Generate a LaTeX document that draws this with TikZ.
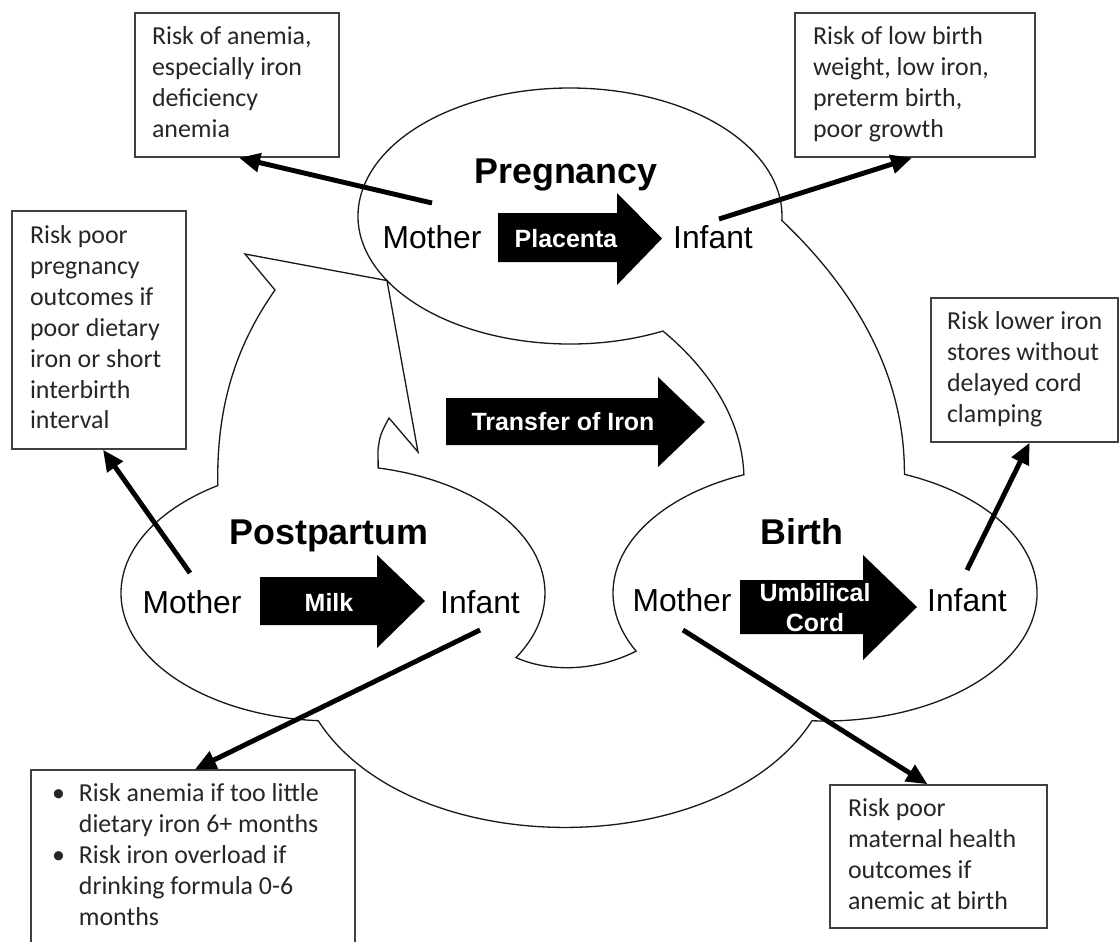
\documentclass[tikz,border=0pt]{standalone}
\usepackage{fontspec}
\setmainfont{Liberation Sans}
\newfontfamily\boxfont{Carlito}
\usetikzlibrary{arrows.meta,calc}
\begin{document}
\begin{tikzpicture}[x=0.02cm,y=-0.02cm,
  outline/.style={draw=black!90, line width=0.75pt, line join=miter},
  blockarrow/.style={fill=black},
  arrowlabel/.style={text=white, font=\bfseries\fontsize{14.2pt}{17pt}\selectfont, inner sep=0pt, anchor=base},
  title/.style={font=\bfseries\fontsize{20.4pt}{24pt}\selectfont, inner sep=0pt, anchor=base},
  actor/.style={font=\fontsize{18.1pt}{21pt}\selectfont, inner sep=0pt, anchor=base},
  riskbox/.style={draw=black!75, line width=0.9pt, fill=white, inner sep=0pt,
    font=\boxfont\fontsize{14.74pt}{17.6pt}\selectfont, text=black!85},
  riskarrow/.style={line width=2.8pt, -{Triangle[length=12pt,width=10.5pt]}}
]
\useasboundingbox (0,0) rectangle (1120,941);

% ellipse centres
\coordinate (pc) at (570,216);
\coordinate (ppc) at (333,593);
\coordinate (bc) at (825,593);
% junction points on the ellipses
\coordinate (pJ) at ($(pc)+(149.7:212 and 128)$);
\coordinate (pB) at ($(pc)+(64:212 and 128)$);
\coordinate (bTR) at ($(bc)+(-68:212 and 128)$);
\coordinate (bTL) at ($(bc)+(247.5:212 and 128)$);
\coordinate (bBL) at ($(bc)+(153:212 and 128)$);
\coordinate (ppR) at ($(ppc)+(30.3:212 and 128)$);
\coordinate (ppB) at ($(ppc)+(94:212 and 128)$);

% outer outline
\draw[outline] (pJ) arc[start angle=149.7, end angle=362, x radius=212, y radius=128]
  .. controls (850,285) and (905,370) .. (bTR)
  arc[start angle=-68, end angle=93.5, x radius=212, y radius=128]
  .. controls (720,863) and (410,863) .. (ppB)
  arc[start angle=94, end angle=237.1, x radius=212, y radius=128]
  .. controls (216,400) and (240,340) .. (275,290) -- (245,254) -- cycle;

% inner outline
\draw[outline] (pJ) arc[start angle=149.7, end angle=64, x radius=212, y radius=128]
  .. controls (710,370) and (742,420) .. (bTL)
  arc[start angle=247.5, end angle=153, x radius=212, y radius=128]
  .. controls (595,672) and (548,672) .. (ppR)
  arc[start angle=30.3, end angle=-77.7, x radius=212, y radius=128]
  -- (378,450) .. controls (380,435) .. (389,418) -- (418,452) -- cycle;

% block arrows
\fill[blockarrow] (498,213) -- (617,213) -- (617,193) -- (662,238.5) -- (617,285) -- (617,262) -- (498,262) -- cycle;
\fill[blockarrow] (446,398) -- (658,398) -- (658,377) -- (705,422) -- (658,467) -- (658,445) -- (446,445) -- cycle;
\fill[blockarrow] (260,577) -- (377,577) -- (377,555) -- (425,601) -- (377,648) -- (377,625) -- (260,625) -- cycle;
\fill[blockarrow] (740,580) -- (863,580) -- (863,555) -- (917,607) -- (863,660) -- (863,634) -- (740,634) -- cycle;

\node[arrowlabel] (placenta) at (566,247) {Placenta};
\node[arrowlabel] (transfer) at (563,430) {Transfer of Iron};
\node[arrowlabel] (milk) at (329,611) {Milk};
\node[arrowlabel] (cord1) at (815,601) {Umbilical};
\node[arrowlabel] (cord2) at (815,631) {Cord};

% titles
\node[title] (tpreg) at (566,183) {Pregnancy};
\node[title] (tpost) at (329,544) {Postpartum};
\node[title] (tbirth) at (802,544) {Birth};

% actors
\node[actor] (pmother) at (432,248) {Mother};
\node[actor] (pinfant) at (713,248) {Infant};
\node[actor] (ppmother) at (192,613) {Mother};
\node[actor] (ppinfant) at (480,613) {Infant};
\node[actor] (bmother) at (682,611) {Mother};
\node[actor] (binfant) at (967,611) {Infant};

% risk boxes
\node[riskbox, minimum width=4.08cm, minimum height=2.88cm] (tlbox) at (237,85)
  {\makebox[3.4cm][l]{\begin{tabular}{@{}l@{}}Risk of anemia,\\especially iron\\deficiency\\anemia\end{tabular}}};
\node[riskbox, minimum width=4.8cm, minimum height=2.88cm] (trbox) at (915,85)
  {\makebox[4.08cm][l]{\begin{tabular}{@{}l@{}}Risk of low birth\\weight, low iron,\\preterm birth,\\poor growth\end{tabular}}};
\node[riskbox, minimum width=3.48cm, minimum height=4.76cm] (mlbox) at (99,330)
  {\makebox[2.76cm][l]{\begin{tabular}{@{}l@{}}Risk poor\\pregnancy\\outcomes if\\poor dietary\\iron or short\\interbirth\\interval\end{tabular}}};
\node[riskbox, minimum width=3.74cm, minimum height=2.88cm] (mrbox) at (1024.5,370)
  {\makebox[3.1cm][l]{\begin{tabular}{@{}l@{}}Risk lower iron\\stores without\\delayed cord\\clamping\end{tabular}}};
\node[riskbox, minimum width=6.48cm, minimum height=3.5cm] (blbox) at (193,857.5)
  {\makebox[5.64cm][l]{\begin{tabular}{@{}l@{}}\makebox[15.3pt][l]{\textbullet}Risk anemia if too little\\\hspace*{15.3pt}dietary iron 6+ months\\\makebox[15.3pt][l]{\textbullet}Risk iron overload if\\\hspace*{15.3pt}drinking formula 0-6\\\hspace*{15.3pt}months\end{tabular}}};
\node[riskbox, minimum width=4.34cm, minimum height=2.86cm] (brbox) at (938.5,856.5)
  {\makebox[3.62cm][l]{\begin{tabular}{@{}l@{}}Risk poor\\maternal health\\outcomes if\\anemic at birth\end{tabular}}};

% risk arrows
\coordinate (s1) at (432,203);
\coordinate (s2) at (719,219);
\coordinate (s3) at (190,573);
\coordinate (s4) at (480,630);
\coordinate (s5) at (683,630);
\coordinate (s6) at (967,570);
\draw[riskarrow] (s1) -- ($(tlbox.south)+(2,0)$);
\draw[riskarrow] (s2) -- ($(trbox.south)+(-3,0)$);
\draw[riskarrow] (s3) -- ($(mlbox.south)+(4,0)$);
\draw[riskarrow] (s4) -- ($(blbox.north)+(2,0)$);
\draw[riskarrow] (s5) -- ($(brbox.north)+(-11,0)$);
\draw[riskarrow] (s6) -- ($(mrbox.south)+(5,0)$);
\end{tikzpicture}
\end{document}
